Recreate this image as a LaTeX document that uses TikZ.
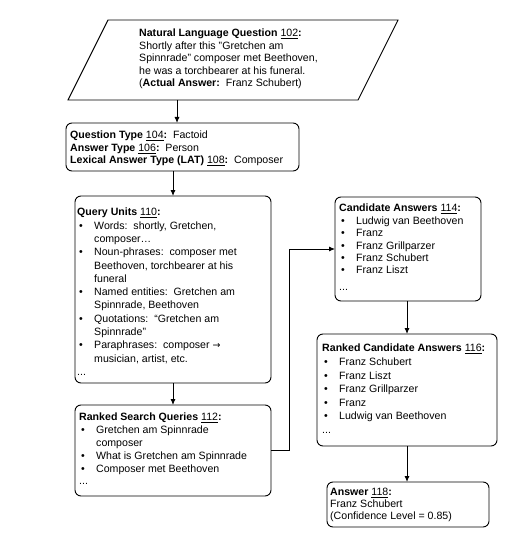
\documentclass[tikz,border=0pt]{standalone}
\usepackage{fontspec}
\setmainfont{Liberation Sans}
\newfontfamily\dvs{DejaVu Sans}
\usetikzlibrary{arrows.meta}
\newcommand{\bu}{\makebox[17pt][l]{\hspace{2pt}\textbullet}}
\newcommand{\ct}{\hspace*{17pt}}
\newcommand{\fs}[1]{\fontsize{10.6}{#1}\selectfont}
\begin{document}
\begin{tikzpicture}[x=1pt,y=-1pt,
  box/.style={draw, line width=0.9pt, rounded corners=6pt, outer sep=0pt, inner sep=0pt, anchor=north west},
  txt/.style={align=left, inner sep=0pt, anchor=north west},
  conn/.style={line width=0.9pt},
  arr/.style={line width=0.9pt, -{Latex[length=6pt,width=5pt]}}]
\useasboundingbox (0,0) rectangle (504,540);
% parallelogram
\draw[line width=0.9pt] (108,20) -- (398,20) -- (358,100) -- (68,100) -- cycle;
\coordinate (pb) at (177,100);
\node[txt, font=\fs{12.5}] (tq) at (139,29) {\textbf{Natural Language Question} \underline{102}\textbf{:}\\
Shortly after this "Gretchen am\\
Spinnrade" composer met Beethoven,\\
he was a torchbearer at his funeral.\\
(\textbf{Actual Answer:}\ \ Franz Schubert)};
% boxes
\node[box, minimum width=233, minimum height=48] (b2) at (66,123) {};
\node[box, minimum width=196, minimum height=187] (b3) at (75,196) {};
\node[box, minimum width=196, minimum height=91] (b4) at (75,405) {};
\node[box, minimum width=146, minimum height=104] (b5) at (335,197) {};
\node[box, minimum width=180, minimum height=112] (b6) at (317,334) {};
\node[box, minimum width=162, minimum height=45] (b7) at (327,482) {};
% texts
\node[txt, font=\fs{12.5}] (t2) at (70,131) {\textbf{Question Type} \underline{104}\textbf{:}\ \ Factoid\\
\textbf{Answer Type} \underline{106}\textbf{:}\ \ Person\\
\textbf{Lexical Answer Type (LAT)} \underline{108}\textbf{:}\ \ Composer};
\node[txt, font=\fs{13.3}] (t3) at (77,208) {\textbf{Query Units} \underline{110}\textbf{:}\\
\bu Words:\ \ shortly, Gretchen,\\
\ct composer…\\
\bu Noun-phrases:\ \ composer met\\
\ct Beethoven, torchbearer at his\\
\ct funeral\\
\bu Named entities:\ \ Gretchen am\\
\ct Spinnrade, Beethoven\\
\bu Quotations:\ \ “Gretchen am\\
\ct Spinnrade”\\
\bu Paraphrases:\ \ composer {\dvs\fontsize{9.5}{13}\selectfont →}\\
\ct musician, artist, etc.\\
...};
\node[txt, font=\fs{12.8}] (t4) at (79,413) {\textbf{Ranked Search Queries} \underline{112}\textbf{:}\\
\bu Gretchen am Spinnrade\\
\ct composer\\
\bu What is Gretchen am Spinnrade\\
\bu Composer met Beethoven\\
...};
\node[txt, font=\fs{12.4}] (t5) at (339,204) {\textbf{Candidate Answers} \underline{114}\textbf{:}\\
\bu Ludwig van Beethoven\\
\bu Franz\\
\bu Franz Grillparzer\\
\bu Franz Schubert\\
\bu Franz Liszt\\[4pt]
...};
\node[txt, font=\fs{13.6}] (t6) at (322,344) {\textbf{Ranked Candidate Answers} \underline{116}\textbf{:}\\
\bu Franz Schubert\\
\bu Franz Liszt\\
\bu Franz Grillparzer\\
\bu Franz\\
\bu Ludwig van Beethoven\\
...};
\node[txt, font=\fs{12}] (t7) at (330,488) {\textbf{Answer} \underline{118}\textbf{:}\\
Franz Schubert\\
(Confidence Level = 0.85)};
% connectors
\draw[arr] (pb) -- (pb |- b2.north);
\coordinate (c2) at (173,171);
\draw[arr] (c2) -- (c2 |- b3.north);
\coordinate (c3) at (173,383);
\draw[arr] (c3) -- (c3 |- b4.north);
\coordinate (k1) at (289,450);
\coordinate (k2) at (289,249);
\draw[conn] (b4.east |- k1) -- (k1) -- (k2);
\draw[arr] (k2) -- (b5.west |- k2);
\coordinate (c5) at (407,301);
\draw[arr] (c5) -- (c5 |- b6.north);
\coordinate (c6) at (407,446);
\draw[arr] (c6) -- (c6 |- b7.north);
\end{tikzpicture}
\end{document}
